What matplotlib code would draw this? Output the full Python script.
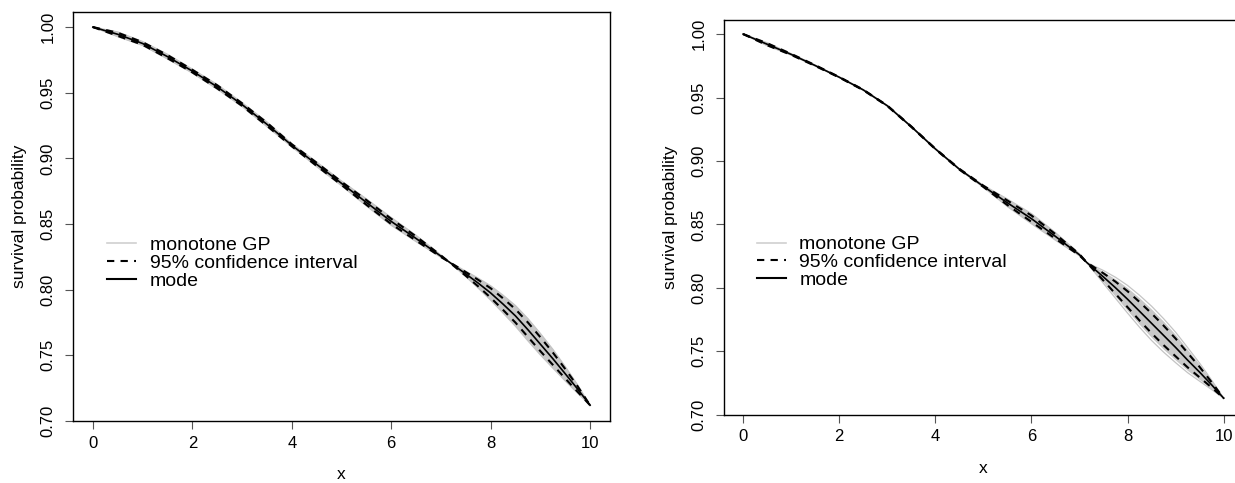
import matplotlib.pyplot as plt
import numpy as np

plt.rcParams['font.family'] = ['Liberation Sans', 'DejaVu Sans']

x = [0, 0.5, 1, 1.5, 2, 2.5, 3, 3.5, 4, 4.5, 5, 5.5, 6, 6.5, 7, 7.15,
     7.5, 7.75, 8, 8.25, 8.5, 8.75, 9, 9.25, 9.5, 9.75, 10]

# left panel
mode_a = [1.000, 0.9945, 0.9875, 0.9775, 0.9665, 0.9545, 0.9410, 0.9260, 0.9100,
          0.8955, 0.8810, 0.8665, 0.8520, 0.8390, 0.8255, 0.8215,
          0.8120, 0.8050, 0.7975, 0.7890, 0.7800, 0.7695, 0.7585, 0.7475,
          0.7360, 0.7243, 0.7120]
ci_half_a = [0, 0.0012, 0.0010, 0.0012, 0.0010, 0.0012, 0.0010, 0.0012, 0.0008,
             0.0012, 0.0012, 0.0018, 0.0020, 0.0016, 0.0006, 0,
             0.0014, 0.0025, 0.0036, 0.0044, 0.0051, 0.0055, 0.0053, 0.0047,
             0.0036, 0.0021, 0]
gp_half_a = [0, 0.0018, 0.0015, 0.0018, 0.0015, 0.0018, 0.0015, 0.0018, 0.0012,
             0.0018, 0.0018, 0.0027, 0.0030, 0.0024, 0.0009, 0,
             0.0021, 0.0038, 0.0055, 0.0068, 0.0079, 0.0085, 0.0082, 0.0072,
             0.0055, 0.0032, 0]

# right panel
mode_b = [1.000, 0.9920, 0.9840, 0.9752, 0.9660, 0.9560, 0.9435, 0.9270, 0.9095,
          0.8935, 0.8800, 0.8670, 0.8545, 0.8405, 0.8260, 0.8200,
          0.8085, 0.8000, 0.7910, 0.7815, 0.7720, 0.7625, 0.7530, 0.7430,
          0.7335, 0.7235, 0.7130]
ci_half_b = [0, 0.0008, 0.0004, 0.0003, 0.0002, 0.0002, 0.0002, 0.0002, 0.0002,
             0.0003, 0.0005, 0.0018, 0.0025, 0.0018, 0.0005, 0,
             0.0029, 0.0048, 0.0063, 0.0073, 0.0078, 0.0077, 0.0070, 0.0057,
             0.0041, 0.0021, 0]
gp_half_b = [0, 0.0012, 0.0006, 0.0004, 0.0003, 0.0003, 0.0003, 0.0003, 0.0003,
             0.0004, 0.0008, 0.0028, 0.0038, 0.0028, 0.0008, 0,
             0.0042, 0.0069, 0.0090, 0.0105, 0.0112, 0.0110, 0.0100, 0.0082,
             0.0059, 0.0031, 0]
gp_edge_b = [0, 0.0012, 0.0006, 0.0004, 0.0003, 0.0003, 0.0003, 0.0003, 0.0003,
             0.0004, 0.0008, 0.0030, 0.0040, 0.0030, 0.0008, 0,
             0.0051, 0.0083, 0.0109, 0.0126, 0.0135, 0.0132, 0.0120, 0.0099,
             0.0071, 0.0037, 0]

xticks = [0, 2, 4, 6, 8, 10]
yticks = [0.70, 0.75, 0.80, 0.85, 0.90, 0.95, 1.00]
labels = ['monotone GP', '95% confidence interval', 'mode']


def panel(ax, mode, ci_half, gp_half, gp_edge):
    x_ = np.array(x)
    m = np.array(mode)
    ci = np.array(ci_half)
    gp = np.array(gp_half)
    ed = np.array(gp_edge)
    ax.fill_between(x_, m - gp, m + gp, color='#c8c8c8', lw=0)
    ax.plot(x_, m + ed, color='#c4c4c4', lw=0.9)
    ax.plot(x_, m - ed, color='#c4c4c4', lw=0.9)
    ax.plot(x_, m + ci, color='black', lw=1.5, ls=(0, (3.5, 3)))
    ax.plot(x_, m - ci, color='black', lw=1.5, ls=(0, (3.5, 3)))
    ax.plot(x_, m, color='black', lw=1.2)

    ax.set_xlim(-0.4, 10.4)
    ax.set_ylim(0.7005, 1.0115)
    ax.set_xticks(xticks)
    ax.set_xticklabels([str(t) for t in xticks])
    ax.set_yticks(yticks)
    ax.set_yticklabels(['%.2f' % t for t in yticks], rotation=90, va='center')
    ax.tick_params(labelsize=12, length=5.5, width=0.8, color='#555555')
    ax.tick_params(axis='x', pad=5)
    ax.tick_params(axis='y', pad=7)
    for s in ax.spines.values():
        s.set_linewidth(1.0)
    ax.set_xlabel('x', fontsize=12.5, labelpad=12)
    ax.set_ylabel('survival probability', fontsize=12.5, labelpad=10)

    h1, = ax.plot([], [], color='#d0d0d0', lw=1.2)
    h2, = ax.plot([], [], color='black', lw=1.5, ls=(0, (3.5, 3)))
    h3, = ax.plot([], [], color='black', lw=1.5)
    ax.legend([h1, h2, h3], labels,
              loc='center left', bbox_to_anchor=(0.063, 0.386), frameon=False,
              fontsize=14, handlelength=1.5, handletextpad=0.7,
              labelspacing=0.0, borderpad=0, borderaxespad=0)


fig = plt.figure(figsize=(12.35, 4.83), dpi=100)
ax1 = fig.add_axes([0.0591, 0.1284, 0.4348, 0.8468])
ax2 = fig.add_axes([0.5862, 0.1414, 0.4202, 0.8182])

panel(ax1, mode_a, ci_half_a, gp_half_a, gp_half_a)
panel(ax2, mode_b, ci_half_b, gp_half_b, gp_edge_b)

fig.savefig('out.png', dpi=100)
